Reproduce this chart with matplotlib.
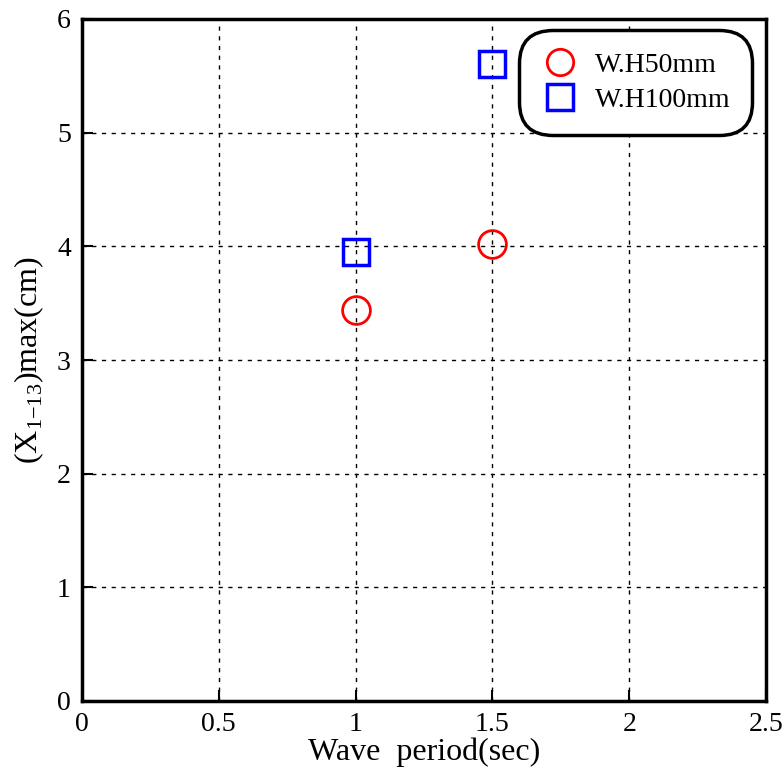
import numpy as np
import matplotlib.pyplot as plt

# wave period (sec) and max displacement (cm) per wave height
period = [1.0, 1.5]
h50_disp = [3.44, 4.02]
h100_disp = [3.95, 5.60]

plt.rcParams['font.family'] = ['Liberation Serif', 'DejaVu Serif']
plt.rcParams['mathtext.fontset'] = 'custom'
plt.rcParams['mathtext.rm'] = 'Liberation Serif'

fig = plt.figure(figsize=(7.84, 7.76), dpi=100)
ax = fig.add_axes([82/784, 75/776, 684/784, 682/776])

ax.plot(period, h50_disp, 'o', mfc='none', mec='red', mew=2, ms=20, label='W.H50mm')
ax.plot(period, h100_disp, 's', mfc='none', mec='blue', mew=2.5, ms=19, label='W.H100mm')

ax.set_xlim(0, 2.5)
ax.set_ylim(0, 6)
ax.set_xticks(np.arange(0, 2.51, 0.5))
ax.set_xticklabels(['0', '0.5', '1', '1.5', '2', '2.5'])
ax.set_yticks(np.arange(0, 7, 1))
ax.grid(True, color='black', linestyle=(0, (3, 4)), linewidth=1)
ax.tick_params(direction='in', length=8, width=1.5, labelsize=20, pad=8)
for s in ax.spines.values():
    s.set_linewidth(2.5)

ax.set_xlabel('Wave  period(sec)', fontsize=23, labelpad=0)
ax.set_ylabel(r'(X$_\mathregular{1{-}13}$)max(cm)', fontsize=23, labelpad=8)

leg = ax.legend(loc='upper right', fontsize=20, handletextpad=0.6, handlelength=1.3,
                borderpad=0.8, labelspacing=0.35, bbox_to_anchor=(0.98, 0.984),
                borderaxespad=0, fancybox=True, framealpha=1, markerscale=0.95)
frame = leg.get_frame()
frame.set_edgecolor('black')
frame.set_linewidth(2.5)
frame.set_boxstyle('round,pad=0,rounding_size=1.2')

fig.savefig('out.png', dpi=100)
